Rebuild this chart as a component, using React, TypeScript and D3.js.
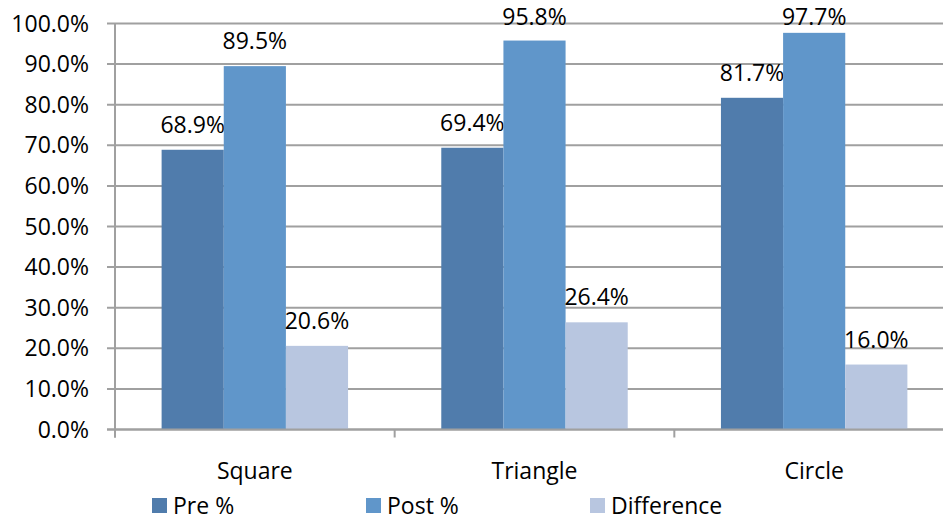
import React, { useEffect, useRef } from 'react';
import * as d3 from 'd3';

const categories = ['Square', 'Triangle', 'Circle'];
const seriesNames = ['Pre %', 'Post %', 'Difference'];
const preValues = [0.689, 0.694, 0.817];
const postValues = [0.895, 0.958, 0.977];
const diffValues = [0.206, 0.264, 0.16];
const yTicks = [0, 0.1, 0.2, 0.3, 0.4, 0.5, 0.6, 0.7, 0.8, 0.9, 1.0];
const colors = ['#507CAC', '#6096CA', '#B8C6E0'];

const App = () => {
    const svgRef = useRef(null);

    useEffect(() => {
        if (!svgRef.current) return;
        const width = 943;
        const height = 521;
        const font = '"Open Sans", sans-serif';

        const svg = d3.select(svgRef.current);
        svg.selectAll('*').remove();
        svg.attr('width', width).attr('height', height);

        // plot area
        const left = 115;
        const right = 954;
        const top = 23.5;
        const bottom = 429.5;

        const x0 = d3.scaleBand().domain(categories).range([left, right]).paddingInner(0).paddingOuter(0);
        const x1 = d3.scaleBand().domain(seriesNames).range([0, x0.bandwidth()]).paddingOuter(0.75).paddingInner(0);
        const y = d3.scaleLinear().domain([0, 1]).range([bottom, top]);

        const series = [preValues, postValues, diffValues];

        // gridlines
        const grid = svg.append('g');
        grid.selectAll('line')
            .data(yTicks)
            .join('line')
            .attr('x1', left - 8)
            .attr('x2', width)
            .attr('y1', d => y(d))
            .attr('y2', d => y(d))
            .attr('stroke', '#A0A0A0')
            .attr('stroke-width', 2);

        // y tick labels
        svg.append('g').selectAll('text')
            .data(yTicks)
            .join('text')
            .attr('x', 89)
            .attr('y', d => y(d) + 8)
            .attr('text-anchor', 'end')
            .attr('font-family', font)
            .attr('font-size', 23)
            .attr('fill', '#000')
            .text(d => d3.format('.1%')(d));

        // bars
        series.forEach((vals, si) => {
            svg.append('g').selectAll('rect')
                .data(vals)
                .join('rect')
                .attr('x', (d, i) => x0(categories[i]) + x1(seriesNames[si]))
                .attr('y', d => y(d))
                .attr('width', x1.bandwidth())
                .attr('height', d => y(0) - y(d))
                .attr('fill', colors[si]);

            // data labels, kept inside the chart at the top like Excel does
            svg.append('g').selectAll('text')
                .data(vals)
                .join('text')
                .attr('x', (d, i) => x0(categories[i]) + x1(seriesNames[si]) + x1.bandwidth() / 2)
                .attr('y', d => Math.max(y(d) - 17, 25))
                .attr('text-anchor', 'middle')
                .attr('font-family', font)
                .attr('font-size', 23)
                .attr('fill', '#000')
                .text(d => d3.format('.1%')(d));
        });

        // axes lines
        svg.append('line')
            .attr('x1', left).attr('x2', left)
            .attr('y1', top).attr('y2', bottom + 8)
            .attr('stroke', '#A0A0A0').attr('stroke-width', 2);
        svg.append('line')
            .attr('x1', left - 8).attr('x2', width)
            .attr('y1', bottom).attr('y2', bottom)
            .attr('stroke', '#A0A0A0').attr('stroke-width', 2);
        svg.append('g').selectAll('line')
            .data(categories)
            .join('line')
            .attr('x1', d => x0(d))
            .attr('x2', d => x0(d))
            .attr('y1', bottom)
            .attr('y2', bottom + 8)
            .attr('stroke', '#A0A0A0')
            .attr('stroke-width', 2);

        // category labels
        svg.append('g').selectAll('text')
            .data(categories)
            .join('text')
            .attr('x', d => x0(d) + x0.bandwidth() / 2)
            .attr('y', 479)
            .attr('text-anchor', 'middle')
            .attr('font-family', font)
            .attr('font-size', 23)
            .attr('fill', '#000')
            .text(d => d);

        // legend
        const legendX = [152, 366, 590];
        const lg = svg.append('g');
        seriesNames.forEach((name, i) => {
            lg.append('rect')
                .attr('x', legendX[i])
                .attr('y', 498)
                .attr('width', 15)
                .attr('height', 15)
                .attr('fill', colors[i]);
            lg.append('text')
                .attr('x', legendX[i] + 21)
                .attr('y', 514)
                .attr('font-family', font)
                .attr('font-size', 23)
                .attr('fill', '#000')
                .text(name);
        });
    }, []);

    return (
        <div style={{ position: 'absolute', left: 0, top: 0, width: 943, height: 521, background: '#fff', overflow: 'hidden' }}>
            <svg ref={svgRef} style={{ display: 'block' }}></svg>
        </div>
    );
};

export default App;
